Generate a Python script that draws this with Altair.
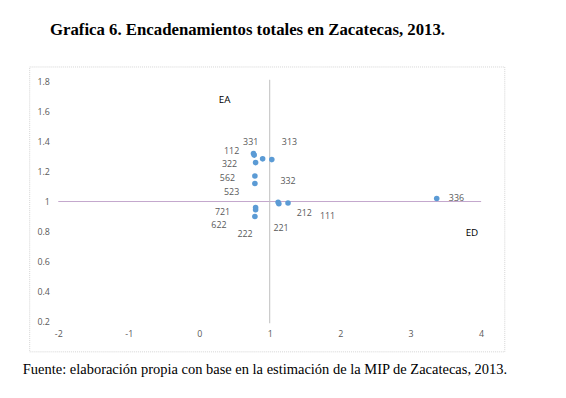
import altair as alt
import pandas as pd

# data
pt_x = [0.77, 0.78, 0.90, 1.03, 0.80, 0.79, 0.79, 1.12, 1.13, 1.26, 0.80, 0.80, 0.79, 3.37]
pt_y = [1.32, 1.31, 1.285, 1.28, 1.26, 1.17, 1.12, 0.995, 0.985, 0.99, 0.96, 0.945, 0.90, 1.02]

codes = ["331", "313", "112", "322", "562", "332", "523", "721", "212", "111", "622", "221", "222", "336"]
lab_x = [0.73, 1.28, 0.46, 0.43, 0.40, 1.26, 0.46, 0.33, 1.49, 1.82, 0.28, 1.16, 0.65, 3.65]
lab_y = [1.40, 1.395, 1.34, 1.25, 1.16, 1.14, 1.06, 0.93, 0.92, 0.90, 0.84, 0.82, 0.78, 1.02]

quad_text = ["EA", "ED"]
quad_x = [0.36, 3.87]
quad_y = [1.68, 0.79]

x_ticks = [-2, -1, 0, 1, 2, 3, 4]
y_ticks = [0.2, 0.4, 0.6, 0.8, 1.0, 1.2, 1.4, 1.6, 1.8]

title_text = "Grafica 6. Encadenamientos totales en Zacatecas, 2013."
source_text = "Fuente: elaboración propia con base en la estimación de la MIP de Zacatecas, 2013."

pts = pd.DataFrame({"x": pt_x, "y": pt_y})
labs = pd.DataFrame({"code": codes, "x": lab_x, "y": lab_y})
quads = pd.DataFrame({"t": quad_text, "x": quad_x, "y": quad_y})

xs = alt.Scale(domain=[-2, 4], nice=False, zero=False)
ys = alt.Scale(domain=[0.2, 1.8], nice=False, zero=False)

label_font = "Open Sans"

xaxis = alt.Axis(values=x_ticks, grid=False, domain=False, ticks=False, labelPadding=8,
                 labelOverlap=False, labelFlush=False, labelExpr="toString(datum.value)",
                 labelFont=label_font, labelFontSize=9, labelColor="#595959", title=None)
yaxis = alt.Axis(values=y_ticks, grid=False, domain=False, ticks=False, labelPadding=9,
                 labelOverlap=False, labelFlush=False, labelExpr="toString(datum.value)",
                 labelFont=label_font, labelFontSize=9, labelColor="#595959", title=None)

X = lambda: alt.X("x:Q", scale=xs, axis=xaxis)
Y = lambda: alt.Y("y:Q", scale=ys, axis=yaxis)

frame = alt.Chart(pd.DataFrame({"a": [0]})).mark_rect(
    fill=None, stroke="#d4d4d4", strokeWidth=1, strokeDash=[1, 1]
).encode(x=alt.value(-29), x2=alt.value(453), y=alt.value(-15), y2=alt.value(274))

hline = alt.Chart(pd.DataFrame({"y": [1.0]})).mark_rule(color="#c2a6cc", strokeWidth=1).encode(
    y=Y(), x=alt.value(0), x2=alt.value(429)
)
vline = alt.Chart(pd.DataFrame({"x": [1.0]})).mark_rule(color="#bfbfbf", strokeWidth=1).encode(
    x=X(), y=alt.value(-2), y2=alt.value(245)
)

points = alt.Chart(pts).mark_circle(size=32, color="#5B9BD5", opacity=1).encode(x=X(), y=Y())

labels = alt.Chart(labs).mark_text(font=label_font, fontSize=9, color="#595959").encode(
    x=X(), y=Y(), text="code:N"
)

quad = alt.Chart(quads).mark_text(font=label_font, fontSize=10, color="#000000").encode(
    x=X(), y=Y(), text="t:N"
)

title = alt.Chart(pd.DataFrame({"t": [title_text]})).mark_text(
    font="Liberation Serif", fontSize=17, fontWeight="bold", color="#000000", align="center"
).encode(x=alt.value(192), y=alt.value(-52), text="t:N")

source = alt.Chart(pd.DataFrame({"t": [source_text]})).mark_text(
    font="Liberation Serif", fontSize=14.7, color="#000000", align="left"
).encode(x=alt.value(-36), y=alt.value(292), text="t:N")

chart = alt.layer(frame, hline, vline, points, labels, quad, title, source).properties(
    width=429, height=243,
    autosize=alt.AutoSizeParams(type="none"),
    padding={"left": 51, "top": 72, "right": 78, "bottom": 75},
).configure_view(stroke=None).configure_axis(labelOverlap=False)

chart.save("out.html", embed_options={"renderer": "svg", "actions": False})
